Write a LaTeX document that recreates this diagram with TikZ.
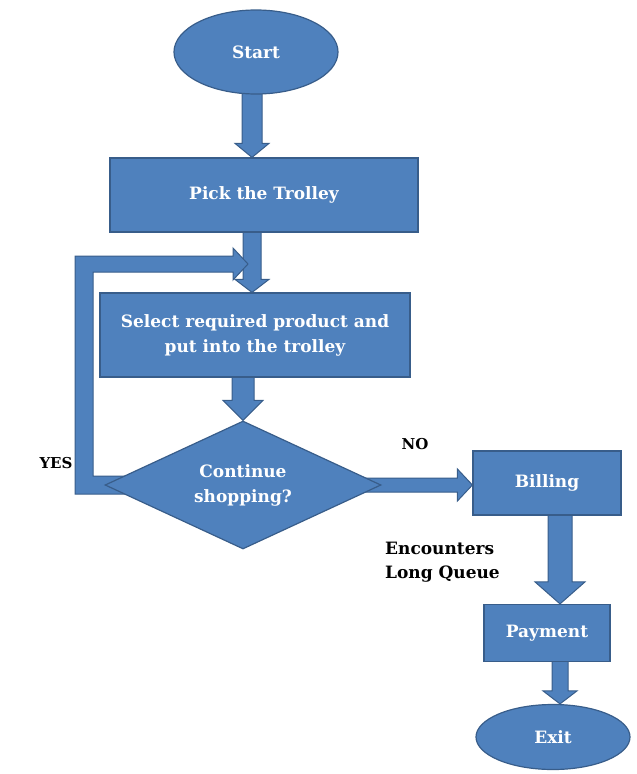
\documentclass[tikz,border=0pt]{standalone}
\usepackage{fontspec}
\setmainfont{DejaVu Serif}
\usetikzlibrary{calc,shapes.geometric,backgrounds}
\definecolor{boxblue}{RGB}{79,129,189}
\definecolor{boxedge}{RGB}{56,93,138}

\tikzset{
  flowbox/.style={rectangle, fill=boxblue, draw=boxedge, line width=1.2pt, text=white,
    font=\bfseries\fontsize{17}{25}\selectfont, align=center, inner sep=0pt},
  terminal/.style={flowbox, ellipse},
  decision/.style={flowbox, diamond, aspect=2},
  arrowbody/.style={fill=boxblue, draw=boxedge, line width=1pt, line join=miter},
  tag/.style={font=\bfseries\fontsize{15}{24}\selectfont, align=left, inner sep=0pt}
}

\newcommand{\blockarrow}[5]{%
  \path ($#5!#3!#4$) coordinate (hb);
  \filldraw[arrowbody] ($#4!#1!90:#5$) -- ($(hb)!#1!90:#5$) -- ($(hb)!#2!90:#5$) -- #5
    -- ($(hb)!#2!-90:#5$) -- ($(hb)!#1!-90:#5$) -- ($#4!#1!-90:#5$) -- cycle;
}

\begin{document}
\begin{tikzpicture}[x=1pt, y=-1pt]
        \useasboundingbox (0,0) rectangle (637,774);
        \node[terminal, minimum width=164pt, minimum height=84pt] (start) at (256,52) {Start};
        \node[flowbox, minimum width=308pt, minimum height=74pt] (pick) at (264,195) {Pick the Trolley};
        \node[flowbox, minimum width=310pt, minimum height=84pt] (sel) at (255,335) {Select required product and\\put into the trolley};
        \node[decision, minimum width=276pt, minimum height=128pt] (dia) at (243,485) {Continue\\shopping?};
        \node[flowbox, minimum width=148pt, minimum height=64pt] (bill) at (547,483) {Billing};
        \node[flowbox, minimum width=126pt, minimum height=57pt] (pay) at (547,633) {Payment};
        \node[terminal, minimum width=154pt, minimum height=65pt] (exit) at (553,737) {Exit};
        \node[tag] (yes) at (56,463) {YES};
        \node[tag] (no) at (415,444) {NO};
        \node[tag, anchor=west, font=\bfseries\fontsize{17}{24}\selectfont] (queue) at (385,562) {Encounters\\Long Queue};
        \coordinate (mcol) at (252,0);
        \coordinate (rcol) at (560,0);
        \coordinate (yesbend) at (84,0);
        \coordinate (yestip) at (248,264);
        \begin{scope}[on background layer]
        \blockarrow{10pt}{17pt}{14pt}{(mcol |- start.center)}{(mcol |- pick.north)}
        \blockarrow{9pt}{17pt}{13pt}{(mcol |- pick.center)}{(mcol |- sel.north)}
        \blockarrow{11pt}{20pt}{20pt}{(sel.center -| dia.north)}{(dia.north)}
        \blockarrow{7pt}{16pt}{15pt}{(dia.center)}{(dia.center -| bill.west)}
        \blockarrow{12pt}{25pt}{22pt}{(rcol |- bill.center)}{(rcol |- pay.north)}
        \blockarrow{8pt}{17pt}{13pt}{(rcol |- pay.center)}{(rcol |- exit.north)}
        \filldraw[arrowbody] let \p1=(dia.west), \p2=(yesbend), \p3=(yestip) in
          (\x1+20pt,\y1+9pt) -- (\x2+9pt,\y1+9pt) -- (\x2+9pt,\y3-8pt) -- (\x3-15pt,\y3-8pt)
          -- (\x3-15pt,\y3-16pt) -- (\p3) -- (\x3-15pt,\y3+16pt) -- (\x3-15pt,\y3+8pt)
          -- (\x2-9pt,\y3+8pt) -- (\x2-9pt,\y1-9pt) -- (\x1+20pt,\y1-9pt) -- cycle;
        \end{scope}
\end{tikzpicture}
\end{document}
